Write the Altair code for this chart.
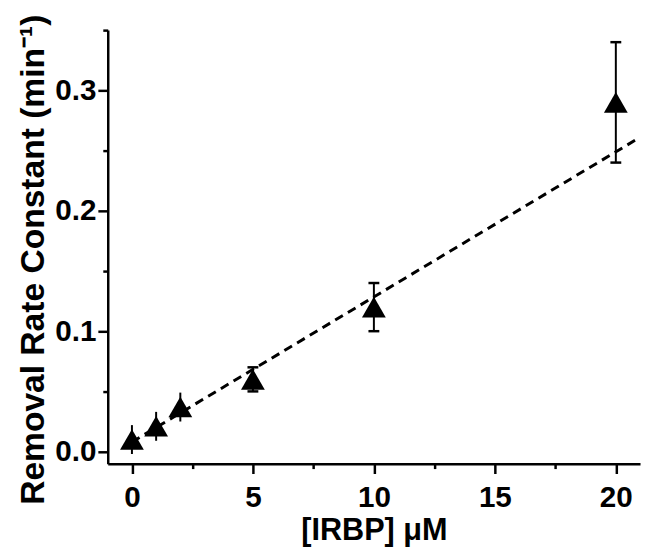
import altair as alt
import pandas as pd

# Data
irbp = [0, 1, 2, 5, 10, 20]
rate = [0.01, 0.021, 0.037, 0.06, 0.12, 0.29]
err = [0.012, 0.012, 0.012, 0.01, 0.02, 0.05]
fit_x = [0, 21]
fit_y = [0.008, 0.261]
x_ticks = [0, 2.5, 5, 7.5, 10, 12.5, 15, 17.5, 20]
y_ticks = [0, 0.05, 0.1, 0.15, 0.2, 0.25, 0.3, 0.35]

pts = pd.DataFrame({
    "x": irbp,
    "y": rate,
    "lo": [r - e for r, e in zip(rate, err)],
    "hi": [r + e for r, e in zip(rate, err)],
})
fit = pd.DataFrame({"x": fit_x, "y": fit_y})

FONT = "Liberation Sans"
x_scale = alt.Scale(domain=[-1, 21], nice=False, zero=False)
y_scale = alt.Scale(domain=[-0.01, 0.35], nice=False, zero=False)

x_axis = alt.Axis(
    values=x_ticks,
    title="[IRBP] μM",
    labelExpr="abs(datum.value % 5) < 1e-9 ? format(datum.value, 'd') : ''",
    tickSize={"condition": {"test": "abs(datum.value % 5) < 1e-9", "value": 10}, "value": 5},
    grid=False,
    domainColor="black", domainWidth=2.5,
    tickColor="black", tickWidth=2.5,
    labelFont=FONT, labelFontSize=30, labelFontWeight="bold", labelColor="black",
    labelPadding=9, labelFlush=False, labelOverlap=False,
    titleFont=FONT, titleFontSize=31, titleFontWeight="bold", titleColor="black",
    titleY=77, titleBaseline="alphabetic",
)
y_cond = "abs(round(datum.value * 10) - datum.value * 10) < 1e-6"
y_axis = alt.Axis(
    values=y_ticks,
    title="Removal Rate Constant (min⁻¹)",
    labelExpr=y_cond + " ? format(datum.value, '.1f') : ''",
    tickSize={"condition": {"test": y_cond, "value": 10}, "value": 5},
    grid=False,
    domainColor="black", domainWidth=2.5,
    tickColor="black", tickWidth=2.5,
    labelFont=FONT, labelFontSize=30, labelFontWeight="bold", labelColor="black",
    labelPadding=2, labelOverlap=False, labelFlush=False,
    titleFont=FONT, titleFontSize=34, titleFontWeight="bold", titleColor="black",
    titleAngle=270, titleX=-65, titleY=232, titleAlign="center", titleBaseline="alphabetic",
)

X = alt.X("x:Q", scale=x_scale, axis=x_axis)

line = alt.Chart(fit).mark_line(
    color="black", strokeWidth=3, strokeDash=[9, 6], clip=True
).encode(
    x=X,
    y=alt.Y("y:Q", scale=y_scale, axis=y_axis),
)

bars = alt.Chart(pts).mark_rule(color="black", strokeWidth=2).encode(
    x=X,
    y=alt.Y("lo:Q", scale=y_scale, axis=y_axis),
    y2="hi:Q",
)

caps_lo = alt.Chart(pts).transform_filter("datum.x >= 5").mark_tick(
    color="black", orient="horizontal", size=11, thickness=2.5, opacity=1
).encode(
    x=X,
    y=alt.Y("lo:Q", scale=y_scale, axis=y_axis),
)
caps_hi = alt.Chart(pts).transform_filter("datum.x >= 5").mark_tick(
    color="black", orient="horizontal", size=11, thickness=2.5, opacity=1
).encode(
    x=X,
    y=alt.Y("hi:Q", scale=y_scale, axis=y_axis),
)

points = alt.Chart(pts).mark_point(
    shape="triangle-up", size=580, filled=True, color="black", opacity=1
).encode(
    x=X,
    y=alt.Y("y:Q", scale=y_scale, axis=y_axis),
)

chart = alt.layer(line, bars, caps_lo, caps_hi, points).properties(
    width=539,
    height=439,
    autosize=alt.AutoSizeParams(type="none"),
    padding={"left": 101, "top": 19, "right": 2, "bottom": 82},
    background="white",
).configure_view(stroke=None)

chart.save("out.html", embed_options={"renderer": "svg", "actions": False})
